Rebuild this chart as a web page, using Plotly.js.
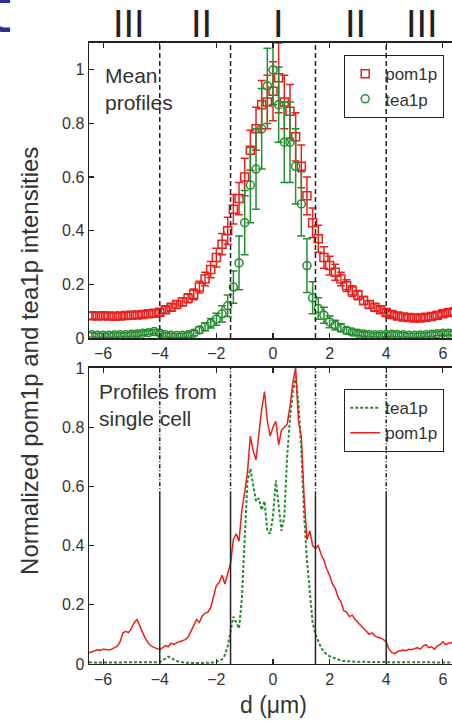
<!DOCTYPE html>
<html>
<head>
<meta charset="utf-8">
<script src="https://cdn.plot.ly/plotly-3.0.1.min.js"></script>
<style>
html,body{margin:0;padding:0;overflow:hidden;background:#fff;}
#chart{width:470px;height:721px;}
</style>
</head>
<body>
<div id="chart"></div>
<script>
// ---------- DATA ----------
// Mean profiles (top panel)
const xMean = [-6.4,-6.2,-6.0,-5.8,-5.6,-5.4,-5.2,-5.0,-4.8,-4.6,
  -4.4,-4.2,-4.0,-3.8,-3.6,-3.4,-3.2,-3.0,-2.8,-2.6,
  -2.4,-2.2,-2.0,-1.8,-1.6,-1.4,-1.2,-1.0,-0.8,-0.6,
  -0.4,-0.2,0.0,0.2,0.4,0.6,0.8,1.0,1.2,1.4,
  1.6,1.8,2.0,2.2,2.4,2.6,2.8,3.0,3.2,3.4,
  3.6,3.8,4.0,4.2,4.4,4.6,4.8,5.0,5.2,5.4,
  5.6,5.8,6.0,6.2,6.4];
const pomMean = [0.083,0.082,0.083,0.082,0.081,0.082,0.084,0.085,0.086,0.088,
  0.090,0.092,0.096,0.105,0.115,0.125,0.135,0.148,0.163,0.190,
  0.220,0.255,0.300,0.350,0.400,0.480,0.520,0.600,0.700,0.780,
  0.870,0.880,0.920,0.970,0.880,0.845,0.750,0.640,0.530,0.430,
  0.370,0.300,0.270,0.245,0.220,0.195,0.175,0.160,0.140,0.125,
  0.115,0.105,0.095,0.088,0.082,0.078,0.076,0.075,0.075,0.077,
  0.080,0.085,0.090,0.095,0.098];
const pomMeanErr = [0.012,0.012,0.012,0.012,0.012,0.012,0.012,0.012,0.012,0.012,
  0.012,0.012,0.012,0.012,0.013,0.014,0.015,0.017,0.020,0.022,
  0.025,0.030,0.035,0.040,0.050,0.055,0.060,0.070,0.075,0.080,
  0.090,0.100,0.110,0.130,0.100,0.100,0.090,0.080,0.070,0.055,
  0.050,0.040,0.035,0.030,0.025,0.022,0.020,0.017,0.015,0.014,
  0.013,0.012,0.012,0.012,0.012,0.012,0.012,0.012,0.012,0.012,
  0.012,0.012,0.012,0.012,0.012];
const teaMean = [0.012,0.010,0.010,0.010,0.011,0.012,0.012,0.014,0.015,0.018,
  0.020,0.024,0.018,0.012,0.010,0.009,0.010,0.012,0.018,0.030,
  0.042,0.055,0.070,0.090,0.120,0.190,0.280,0.430,0.570,0.630,
  0.780,0.940,1.000,0.870,0.730,0.730,0.640,0.500,0.270,0.150,
  0.110,0.085,0.060,0.048,0.038,0.028,0.022,0.018,0.015,0.013,
  0.012,0.012,0.013,0.014,0.013,0.012,0.010,0.010,0.011,0.012,
  0.014,0.016,0.018,0.018,0.020];
const teaMeanErr = [0.008,0.008,0.008,0.008,0.008,0.008,0.008,0.008,0.008,0.008,
  0.008,0.008,0.008,0.008,0.008,0.008,0.008,0.009,0.010,0.012,
  0.015,0.018,0.022,0.030,0.040,0.060,0.100,0.120,0.140,0.150,
  0.150,0.140,0.130,0.140,0.150,0.150,0.140,0.120,0.100,0.060,
  0.040,0.030,0.022,0.018,0.015,0.012,0.010,0.009,0.008,0.008,
  0.008,0.008,0.008,0.008,0.008,0.008,0.008,0.008,0.008,0.008,
  0.008,0.008,0.008,0.008,0.008];

// Single cell profiles (bottom panel)
const xSingle = [-6.5,-6.4,-6.3,-6.2,-6.1,-6.0,-5.9,-5.8,-5.7,-5.6,
  -5.5,-5.4,-5.3,-5.2,-5.1,-5.0,-4.9,-4.8,-4.7,-4.6,
  -4.5,-4.4,-4.3,-4.2,-4.1,-4.0,-3.9,-3.8,-3.7,-3.6,
  -3.5,-3.4,-3.3,-3.2,-3.1,-3.0,-2.9,-2.8,-2.7,-2.6,
  -2.5,-2.4,-2.3,-2.2,-2.1,-2.0,-1.9,-1.8,-1.7,-1.6,
  -1.5,-1.4,-1.3,-1.2,-1.1,-1.0,-0.9,-0.8,-0.7,-0.6,
  -0.5,-0.4,-0.3,-0.2,-0.1,0.0,0.1,0.2,0.3,0.4,
  0.5,0.6,0.7,0.8,0.9,1.0,1.1,1.2,1.3,1.4,
  1.5,1.6,1.7,1.8,1.9,2.0,2.1,2.2,2.3,2.4,
  2.5,2.6,2.7,2.8,2.9,3.0,3.1,3.2,3.3,3.4,
  3.5,3.6,3.7,3.8,3.9,4.0,4.1,4.2,4.3,4.4,
  4.5,4.6,4.7,4.8,4.9,5.0,5.1,5.2,5.3,5.4,
  5.5,5.6,5.7,5.8,5.9,6.0,6.1,6.2,6.3,6.4,
  6.5];
const teaSingle = [0.006,0.005,0.005,0.004,0.005,0.005,0.004,0.005,0.005,0.004,
  0.005,0.005,0.004,0.005,0.005,0.004,0.005,0.005,0.004,0.005,
  0.005,0.004,0.005,0.005,0.005,0.006,0.012,0.020,0.025,0.020,
  0.014,0.010,0.007,0.005,0.004,0.004,0.003,0.003,0.003,0.003,
  0.003,0.003,0.004,0.004,0.005,0.007,0.010,0.015,0.030,0.060,
  0.110,0.160,0.140,0.120,0.220,0.450,0.620,0.660,0.600,0.550,
  0.560,0.520,0.550,0.450,0.440,0.500,0.620,0.540,0.450,0.500,
  0.700,0.830,0.920,0.970,0.880,0.720,0.500,0.350,0.240,0.140,
  0.100,0.075,0.055,0.040,0.032,0.026,0.022,0.018,0.014,0.012,
  0.010,0.009,0.008,0.008,0.007,0.007,0.008,0.007,0.007,0.006,
  0.006,0.007,0.006,0.006,0.007,0.006,0.006,0.005,0.006,0.006,
  0.005,0.006,0.005,0.005,0.006,0.005,0.005,0.006,0.005,0.005,
  0.005,0.006,0.005,0.005,0.006,0.006,0.005,0.006,0.006,0.005,
  0.005];
const pomSingle = [0.038,0.042,0.045,0.048,0.046,0.050,0.049,0.047,0.050,0.055,
  0.060,0.075,0.105,0.110,0.106,0.120,0.140,0.150,0.125,0.105,
  0.085,0.070,0.060,0.055,0.052,0.048,0.055,0.062,0.058,0.070,
  0.066,0.072,0.075,0.078,0.082,0.090,0.110,0.128,0.150,0.140,
  0.162,0.172,0.175,0.190,0.230,0.265,0.275,0.300,0.270,0.310,
  0.340,0.420,0.440,0.415,0.520,0.580,0.650,0.770,0.720,0.690,
  0.780,0.860,0.920,0.820,0.770,0.800,0.820,0.740,0.790,0.800,
  0.810,0.870,0.950,1.000,0.820,0.770,0.560,0.420,0.450,0.400,
  0.390,0.400,0.370,0.350,0.320,0.300,0.270,0.255,0.225,0.210,
  0.180,0.175,0.160,0.165,0.150,0.140,0.130,0.120,0.110,0.100,
  0.105,0.095,0.090,0.088,0.082,0.075,0.050,0.038,0.035,0.042,
  0.045,0.047,0.045,0.050,0.048,0.052,0.055,0.050,0.060,0.065,
  0.055,0.058,0.050,0.060,0.065,0.075,0.065,0.070,0.072,0.070,
  0.068];

// Region boundaries and labels
const boundaries = [-4, -1.5, 1.5, 4];
const regionLabels = ['III', 'II', 'I', 'II', 'III'];
const regionPos = [-5.09, -2.54, 0.18, 2.93, 5.26];
const xTicks = [-6, -4, -2, 0, 2, 4, 6];
const yTicks = [0, 0.2, 0.4, 0.6, 0.8, 1];
const splitLevel = 0.57;

// ---------- STYLE ----------
const RED = 'rgb(232,32,30)';
const GREEN = 'rgb(38,140,48)';
const INK = '#222';
const TXT = '#333';
const FONT = 'Liberation Sans, Arial, sans-serif';

const traces = [
  {x: xMean, y: pomMean, name: 'pom1p', type: 'scatter', mode: 'markers',
   xaxis: 'x', yaxis: 'y', legend: 'legend',
   marker: {symbol: 'square-open', size: 8, color: RED, line: {width: 1.5, color: RED}},
   error_y: {type: 'data', array: pomMeanErr, visible: true, color: RED, thickness: 1.5, width: 4}},
  {x: xMean, y: teaMean, name: 'tea1p', type: 'scatter', mode: 'markers',
   xaxis: 'x', yaxis: 'y', legend: 'legend',
   marker: {symbol: 'circle-open', size: 8, color: GREEN, line: {width: 1.5, color: GREEN}},
   error_y: {type: 'data', array: teaMeanErr, visible: true, color: GREEN, thickness: 1.5, width: 4}},
  {x: xSingle, y: teaSingle, name: 'tea1p', type: 'scatter', mode: 'lines',
   xaxis: 'x2', yaxis: 'y2', legend: 'legend2',
   line: {color: GREEN, width: 2, dash: '3px,2px'}},
  {x: xSingle, y: pomSingle, name: 'pom1p', type: 'scatter', mode: 'lines',
   xaxis: 'x2', yaxis: 'y2', legend: 'legend2',
   line: {color: RED, width: 1.5}}
];

const shapes = [];
boundaries.forEach(b => {
  shapes.push({type: 'line', xref: 'x', yref: 'y', x0: b, x1: b, y0: 0, y1: 1.1,
    line: {color: INK, width: 1.5, dash: '5px,3px'}});
  shapes.push({type: 'line', xref: 'x2', yref: 'y2', x0: b, x1: b, y0: 0, y1: splitLevel,
    line: {color: INK, width: 1.5}});
  shapes.push({type: 'line', xref: 'x2', yref: 'y2', x0: b, x1: b, y0: splitLevel, y1: 1,
    line: {color: INK, width: 1.5, dash: '4px,2px,1px,2px'}});
});

const annotations = regionLabels.map((t, i) => ({
  text: t, xref: 'x', x: regionPos[i], yref: 'paper', y: 0.9674,
  xanchor: 'center', yanchor: 'middle', showarrow: false,
  font: {family: FONT, size: 38, color: INK}
}));
annotations.push(
  {text: 'Mean<br>profiles', xref: 'x', x: -6.0, yref: 'y', y: 1.03, xanchor: 'left', yanchor: 'top',
   align: 'left', showarrow: false, font: {family: FONT, size: 21, color: TXT}},
  {text: 'Profiles from<br>single cell', xref: 'x2', x: -6.22, yref: 'y2', y: 0.965, xanchor: 'left', yanchor: 'top',
   align: 'left', showarrow: false, font: {family: FONT, size: 21, color: TXT}},
  {text: 'd (μm)', xref: 'paper', x: 0.5, yref: 'paper', y: 0.022, xanchor: 'center', yanchor: 'middle',
   showarrow: false, font: {family: FONT, size: 23, color: TXT}},
  {text: 'Normalized pom1p and tea1p intensities', xref: 'paper', x: -0.162, yref: 'paper', y: 0.5,
   textangle: -90, xanchor: 'center', yanchor: 'middle', showarrow: false,
   font: {family: FONT, size: 24, color: TXT}},
  {text: 't', xref: 'paper', x: -0.2038, yref: 'paper', y: 0.9334, xanchor: 'right', yanchor: 'bottom',
   showarrow: false, font: {family: 'DejaVu Sans, sans-serif', size: 60, color: 'rgb(45,45,150)'}}
);

const axisX = {range: [-6.5, 6.5], tickvals: xTicks, ticks: 'inside', ticklen: 5, tickwidth: 1.2,
  tickcolor: INK, mirror: 'ticks', showline: true, linecolor: INK, linewidth: 1.5,
  showgrid: false, zeroline: false, tickfont: {family: FONT, size: 16, color: TXT}};
const axisY = {tickvals: yTicks, ticks: 'inside', ticklen: 5, tickwidth: 1.2,
  tickcolor: INK, mirror: 'ticks', showline: true, linecolor: INK, linewidth: 1.5,
  showgrid: false, zeroline: false, tickfont: {family: FONT, size: 16, color: TXT}};

const legendBase = {xref: 'paper', yref: 'paper', xanchor: 'right', yanchor: 'top',
  bgcolor: 'rgba(0,0,0,0)', bordercolor: INK, borderwidth: 1.2,
  font: {family: FONT, size: 17, color: TXT}, tracegroupgap: 0, itemwidth: 30};

const layout = {
  width: 470, height: 721,
  margin: {l: 89, r: 13, t: 0, b: 0},
  paper_bgcolor: '#fff', plot_bgcolor: '#fff',
  font: {family: FONT, color: TXT},
  xaxis: Object.assign({}, axisX, {domain: [0, 1], anchor: 'y'}),
  yaxis: Object.assign({}, axisY, {domain: [0.5312, 0.9404], range: [0, 1.1], anchor: 'x'}),
  xaxis2: Object.assign({}, axisX, {domain: [0, 1], anchor: 'y2'}),
  yaxis2: Object.assign({}, axisY, {domain: [0.0791, 0.4896], range: [0, 1], anchor: 'x2'}),
  legend: Object.assign({}, legendBase, {x: 0.9647, y: 0.9237}),
  legend2: Object.assign({}, legendBase, {x: 0.9647, y: 0.4605}),
  shapes: shapes,
  annotations: annotations,
  showlegend: true
};

Plotly.newPlot('chart', traces, layout, {displayModeBar: false, staticPlot: true});
</script>
</body>
</html>
